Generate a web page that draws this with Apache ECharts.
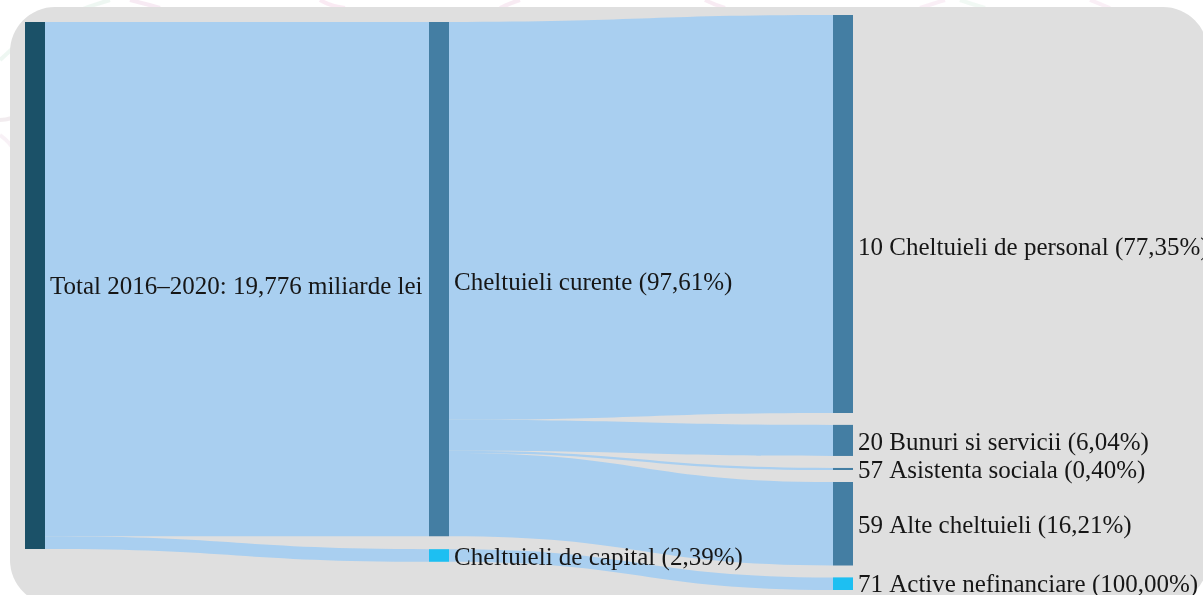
<!DOCTYPE html>
<html>
<head>
<meta charset="utf-8">
<script src="https://cdn.jsdelivr.net/npm/echarts@6/dist/echarts.min.js"></script>
<style>
  html, body { margin: 0; padding: 0; background: #fff; }
  #chart { width: 1203px; height: 595px; }
</style>
</head>
<body>
<div id="chart"></div>
<script>
// nodes (column order top to bottom)
const nodeNames = [
  'Total 2016–2020: 19,776 miliarde lei',
  'Cheltuieli curente (97,61%)',
  'Cheltuieli de capital (2,39%)',
  '10 Cheltuieli de personal (77,35%)',
  '20 Bunuri si servicii (6,04%)',
  '57 Asistenta sociala (0,40%)',
  '59 Alte cheltuieli (16,21%)',
  '71 Active nefinanciare (100,00%)'
]
const nodeColors = ['#1b5168', '#447ea3', '#1dbff2', '#447ea3', '#447ea3', '#447ea3', '#447ea3', '#1dbff2']
// vertical offset of the first two columns inside the plot box (fraction)
const nodeLocalY = [0.012, 0.012, 0.929, null, null, null, null, null]
// label nudges in px (the personal label sits below its node centre)
const labelDy = [2, 4, 3, 34, 3, 2, 3, 2]

// flows, miliarde lei
const linkSources = [0, 0, 1, 1, 1, 1, 2]
const linkTargets = [1, 2, 3, 4, 5, 6, 7]
const linkValues = [19.303, 0.473, 14.931, 1.166, 0.077, 3.129, 0.473]

const chart = echarts.init(document.getElementById('chart'))

const nodes = nodeNames.map((name, i) => {
  const n = {
    name,
    itemStyle: { color: nodeColors[i], borderWidth: 0 },
    label: { offset: [0, labelDy[i]] }
  }
  if (nodeLocalY[i] != null) n.localY = nodeLocalY[i]
  return n
})
const links = linkValues.map((v, i) => ({
  source: nodeNames[linkSources[i]],
  target: nodeNames[linkTargets[i]],
  value: v
}))

// faint decorative strokes behind the card (page watermark)
const deco = (x1, y1, cx, cy, x2, y2, color) => ({
  type: 'bezierCurve',
  z: -20,
  silent: true,
  shape: { x1, y1, cpx1: cx, cpy1: cy, x2, y2 },
  style: { stroke: color, lineWidth: 4, opacity: 0.35, fill: null }
})

chart.setOption({
  backgroundColor: '#ffffff',
  animation: false,
  graphic: [
    deco(0, 60, 40, 20, 110, 0, '#cfe8da'),
    deco(0, 120, 5, 120, 12, 118, '#d9c8d2'),
    deco(0, 135, 20, 150, 12, 160, '#ecd6e4'),
    deco(130, 0, 150, 5, 160, 8, '#e8c4dc'),
    deco(320, 0, 330, 6, 345, 8, '#f0c4dd'),
    deco(500, 8, 510, 3, 520, 0, '#ebc7de'),
    deco(705, 0, 715, 5, 725, 8, '#ebc7de'),
    deco(920, 8, 935, 3, 945, 0, '#f0d2e4'),
    deco(960, 0, 972, 4, 985, 8, '#d8eee0'),
    deco(1090, 0, 1100, 4, 1110, 8, '#f0d2e4'),
    {
      type: 'rect',
      z: -10,
      shape: { x: 10, y: 7, width: 1198, height: 598, r: 45 },
      style: { fill: '#dfdfdf' }
    }
  ],
  series: [{
    type: 'sankey',
    left: 25,
    right: 350,
    top: 15,
    bottom: 5,
    nodeWidth: 20,
    nodeGap: 12,
    layoutIterations: 0,
    draggable: false,
    emphasis: { disabled: true },
    data: nodes,
    links: links,
    label: {
      position: 'right',
      distance: 5,
      fontFamily: 'Liberation Serif',
      fontSize: 25,
      color: '#161616'
    },
    lineStyle: {
      color: '#a9cff0',
      opacity: 1,
      curveness: 0.5
    }
  }]
})
</script>
</body>
</html>
